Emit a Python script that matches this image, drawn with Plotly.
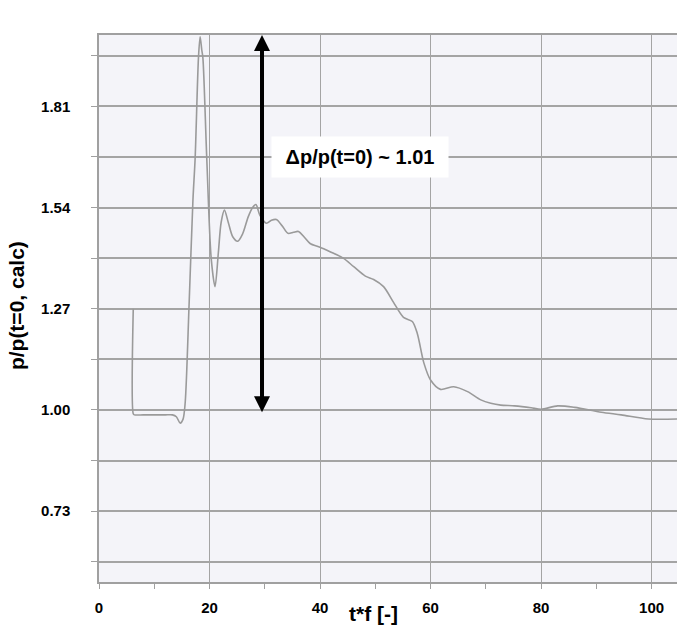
import plotly.graph_objects as go

# Normalised pressure trace p/p(t=0, calc) against dimensionless time t*f
t_f = [6.2, 6.2, 6.4, 8.0, 10.0, 12.0, 13.3, 14.0, 14.7, 15.2, 15.6, 16.3, 17.0,
       17.4, 18.0, 18.3, 18.6, 18.8, 19.5, 20.3, 21.0, 21.6, 22.1, 22.7, 23.4,
       24.2, 25.1, 26.0, 27.0, 27.8, 28.4, 29.1, 30.3, 31.2, 32.1, 33.2, 34.2,
       35.2, 36.1, 37.2, 38.2, 40.0, 41.8, 44.2, 46.1, 48.2, 49.7, 51.5, 53.3,
       55.1, 56.7, 57.6, 58.8, 60.0, 61.8, 64.2, 66.7, 69.1, 70.9, 72.7, 75.2,
       78.2, 80.0, 83.0, 86.1, 90.9, 94.5, 99.4, 104.7]
p_ratio = [1.27, 0.99, 0.987, 0.987, 0.987, 0.987, 0.987, 0.982, 0.965, 0.975,
           1.02, 1.28, 1.56, 1.672, 1.939, 1.995, 1.96, 1.939, 1.672, 1.405,
           1.329, 1.42, 1.50, 1.533, 1.50, 1.462, 1.450, 1.47, 1.515, 1.54,
           1.548, 1.52, 1.498, 1.506, 1.508, 1.49, 1.471, 1.474, 1.476, 1.46,
           1.444, 1.434, 1.422, 1.405, 1.382, 1.357, 1.348, 1.329, 1.287, 1.247,
           1.236, 1.204, 1.125, 1.08, 1.055, 1.062, 1.049, 1.027, 1.018, 1.013,
           1.011, 1.006, 1.002, 1.011, 1.007, 0.994, 0.987, 0.976, 0.976]

# Axis ticks
x_ticks = [0, 20, 40, 60, 80, 100]
y_ticks = [0.595, 0.73, 0.865, 1.00, 1.135, 1.27, 1.405, 1.54, 1.675, 1.81, 1.945]
y_labels = ["", "0.73", "", "1.00", "", "1.27", "", "1.54", "", "1.81", ""]

# Pressure rise marker
arrow_t = 29.5
arrow_base = 0.99
arrow_delta = 1.01
delta_label = "\u0394p/p(t=0) ~ 1.01"

FONT = "Liberation Sans, Arial, sans-serif"

fig = go.Figure()
fig.add_trace(go.Scatter(
    x=t_f, y=p_ratio, mode="lines",
    line=dict(color="#9a9a9a", width=1.6, shape="spline", smoothing=0.8),
    hoverinfo="skip", showlegend=False,
))

fig.add_annotation(
    x=arrow_t, y=arrow_base + arrow_delta, xref="x", yref="y",
    ax=arrow_t, ay=arrow_base, axref="x", ayref="y",
    text="", showarrow=True, arrowside="end+start",
    arrowhead=2, startarrowhead=2, arrowwidth=4,
    arrowsize=0.8, startarrowsize=0.8, arrowcolor="black",
)
fig.add_annotation(
    x=47.2, y=1.675, xref="x", yref="y", text=delta_label, showarrow=False,
    font=dict(family=FONT, size=20, color="black", weight="bold"),
    bgcolor="white", width=170, height=34, borderpad=3,
)
fig.add_annotation(
    x=0.475, y=-0.058, xref="paper", yref="paper", text="t*f [-]",
    showarrow=False, xanchor="center", yanchor="middle",
    font=dict(family=FONT, size=21, color="black", weight="bold"),
)
fig.add_annotation(
    x=-0.143, y=0.505, xref="paper", yref="paper", text="p/p(t=0, calc)",
    showarrow=False, textangle=-90, xanchor="center", yanchor="middle",
    font=dict(family=FONT, size=21, color="black", weight="bold"),
)

fig.update_layout(
    width=677, height=631,
    margin=dict(l=99, r=0, t=35, b=49),
    paper_bgcolor="white",
    plot_bgcolor="#f4f4f9",
    font=dict(family=FONT, color="black"),
    showlegend=False,
)
fig.update_xaxes(
    range=[0, 104.6], tickvals=x_ticks, ticktext=[str(v) for v in x_ticks],
    showgrid=True, gridcolor="#a4a4a4", gridwidth=1.2,
    zeroline=False, showline=True, linecolor="#a0a0a0", linewidth=1.5,
    mirror=True, ticks="outside", ticklen=5, tickcolor="#a0a0a0",
    tickfont=dict(family=FONT, size=15, color="black", weight="bold"),
    ticklabelstandoff=6,
    minor=dict(dtick=10, tick0=0, ticks="outside", ticklen=5,
               tickcolor="#a0a0a0", showgrid=False),
)
fig.update_yaxes(
    range=[0.5413, 2.0], tickvals=y_ticks, ticktext=y_labels,
    showgrid=True, gridcolor="#a4a4a4", gridwidth=2,
    zeroline=False, showline=True, linecolor="#a0a0a0", linewidth=1.5,
    ticks="outside", ticklen=6, tickcolor="#a0a0a0",
    tickfont=dict(family=FONT, size=15, color="black", weight="bold"),
    ticklabelstandoff=18,
)

fig.write_html("out.html")
